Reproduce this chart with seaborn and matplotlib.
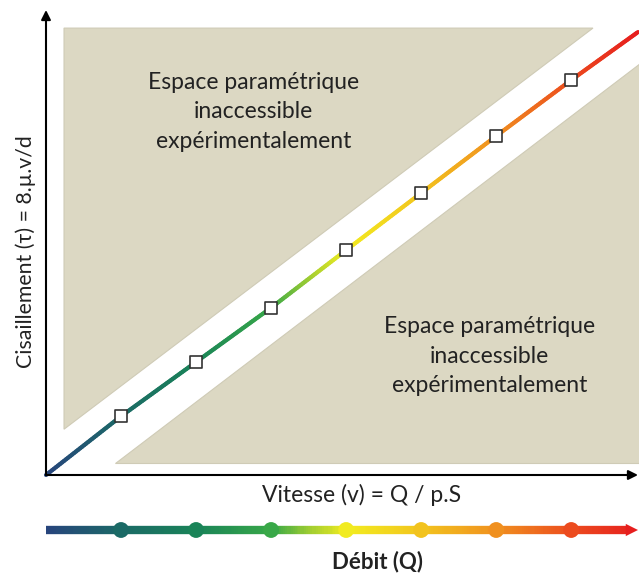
import numpy as np
import matplotlib
matplotlib.use("Agg")
import matplotlib.pyplot as plt
from matplotlib.collections import LineCollection
from matplotlib.colors import LinearSegmentedColormap
from matplotlib.patches import Polygon
import seaborn as sns

# data (arbitrary units)
vitesse = [1.0, 2.0, 3.0, 4.0, 5.0, 6.0, 7.0]
cisaillement = [1.04, 2.0, 2.96, 3.98, 4.99, 6.0, 6.99]
ligne_v = [0.0] + vitesse + [7.89]
ligne_tau = [0.0] + cisaillement + [7.84]
debit = [1, 2, 3, 4, 5, 6, 7]

zone_haut = [(0.24, 7.91), (7.29, 7.91), (0.24, 0.81)]
zone_bas = [(0.92, 0.21), (7.92, 0.21), (7.92, 7.29)]
texte_zone = "Espace paramétrique\ninaccessible\nexpérimentalement"

xmax, ymax = 7.89, 8.23
beige = "#dcd8c3"

cmap = LinearSegmentedColormap.from_list("debit", [
    (0.0, "#27457c"), (0.127, "#1b6a66"), (0.253, "#1a8458"), (0.38, "#38a848"),
    (0.45, "#a8d030"), (0.507, "#f2ec20"), (0.634, "#f2c41e"), (0.76, "#f0901f"),
    (0.887, "#ec4c1e"), (1.0, "#e61e1e")])

sns.set_style("white")
plt.rcParams["font.family"] = ["Lato", "DejaVu Sans"]

fig = plt.figure(figsize=(6.39, 5.74), dpi=100)
W, H = 639, 574
ax = fig.add_axes([46 / W, (H - 475) / H, (638 - 46) / W, (475 - 10) / H])
ax.set_xlim(0, xmax)
ax.set_ylim(0, ymax)
ax.set_axis_off()

for pts in (zone_haut, zone_bas):
    ax.add_patch(Polygon(pts, closed=True, facecolor=beige, edgecolor="#cfcbb6",
                         lw=0.8, zorder=1, clip_on=False))

ax.text(2.77, 6.43, texte_zone, ha="center", va="center", fontsize=16.5,
        linespacing=1.5, color="#222222")
ax.text(5.91, 2.1, texte_zone, ha="center", va="center", fontsize=16.5,
        linespacing=1.5, color="#222222")

# gradient line
xs = np.interp(np.linspace(0, 1, 300), np.linspace(0, 1, len(ligne_v)), ligne_v)
ys = np.interp(xs, ligne_v, ligne_tau)
segs = np.stack([np.column_stack([xs[:-1], ys[:-1]]), np.column_stack([xs[1:], ys[1:]])], axis=1)
lc = LineCollection(segs, colors=cmap(xs[:-1] / xmax), linewidths=3, zorder=3,
                    capstyle="round", clip_on=False)
ax.add_collection(lc)

sns.scatterplot(x=vitesse, y=cisaillement, ax=ax, marker="s", s=80, color="white",
                edgecolor="#333333", linewidth=1.2, zorder=4, clip_on=False)

# axes arrows
ax.annotate("", xy=(1.0, 0), xytext=(0, 0), xycoords="axes fraction",
            arrowprops=dict(arrowstyle="-|>", color="black", lw=1.5, mutation_scale=14,
                            shrinkA=0, shrinkB=0))
ax.annotate("", xy=(0, 1.0), xytext=(0, 0), xycoords="axes fraction",
            arrowprops=dict(arrowstyle="-|>", color="black", lw=1.5, mutation_scale=14,
                            shrinkA=0, shrinkB=0))

fig.text(26 / W, 1 - 252 / H, "Cisaillement (τ) = 8.µ.v/d", rotation=90,
         ha="center", va="center", fontsize=15.3, color="#222222")
fig.text(362 / W, 1 - 495 / H, "Vitesse (v) = Q / p.S", ha="center", va="center",
         fontsize=16.5, color="#222222")

# débit bar
ax2 = fig.add_axes([46 / W, (H - 545) / H, (638 - 46) / W, 30 / H])
ax2.set_xlim(0, xmax)
ax2.set_ylim(-1, 1)
ax2.set_axis_off()
bx = np.linspace(0, xmax - 0.15, 300)
bsegs = np.stack([np.column_stack([bx[:-1], np.zeros(299)]),
                  np.column_stack([bx[1:], np.zeros(299)])], axis=1)
ax2.add_collection(LineCollection(bsegs, colors=cmap(bx[:-1] / xmax), linewidths=6,
                                  zorder=2))
ax2.annotate("", xy=(xmax, 0), xytext=(xmax - 0.2, 0), xycoords="data",
             arrowprops=dict(arrowstyle="-|>", color=cmap(1.0), lw=0,
                             mutation_scale=22, shrinkA=0, shrinkB=0), annotation_clip=False)
sns.scatterplot(x=debit, y=[0] * len(debit), ax=ax2, hue=debit, palette=[cmap(d / xmax) for d in debit],
                s=130, edgecolor="none", legend=False, zorder=3, clip_on=False)

fig.text(378 / W, 1 - 562 / H, "Débit (Q)", ha="center", va="center", fontsize=16,
         fontweight="bold", color="#222222")

fig.savefig("out.png", dpi=100)
